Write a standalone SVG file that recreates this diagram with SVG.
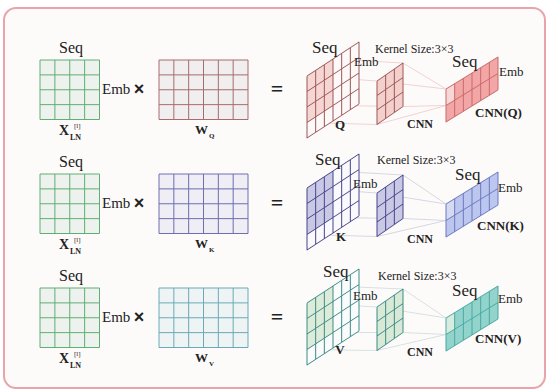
<svg xmlns="http://www.w3.org/2000/svg" width="550" height="391" viewBox="0 0 550 391">
<defs>
<style>
.t{font-family:"Liberation Serif","Times New Roman",serif;fill:#222}
.b{font-weight:bold}
.s16{font-size:16px}.s15{font-size:15px}.s17{font-size:17px}.s13{font-size:13px}.s12{font-size:12px}
.x{font-family:"Liberation Sans",Arial,sans-serif;font-weight:bold;font-size:18px;fill:#222}
.g{fill:none;vector-effect:non-scaling-stroke;stroke-width:1}
.cq{stroke:#ecc8c8;stroke-width:0.8;fill:none}
.ck{stroke:#cdcdda;stroke-width:0.8;fill:none}
.cv{stroke:#cbdada;stroke-width:0.8;fill:none}
</style>
<path id="grid44" d="M0,0H59.5M0,14.875H59.5M0,29.75H59.5M0,44.625H59.5M0,59.5H59.5M0,0V59.5M14.875,0V59.5M29.75,0V59.5M44.625,0V59.5M59.5,0V59.5"/>
<path id="grid64" d="M0,0H89M0,14.875H89M0,29.75H89M0,44.625H89M0,59.5H89M0,0V59.5M14.833,0V59.5M29.667,0V59.5M44.5,0V59.5M59.333,0V59.5M74.167,0V59.5M89,0V59.5"/>
<path id="pm" d="M0,0H52M0,15.5H52M0,31H52M0,46.5H52M0,62H52M0,0V62M8.667,0V62M17.333,0V62M26,0V62M34.667,0V62M43.333,0V62M52,0V62"/>
<path id="pk" d="M0,0H26M0,14.5H26M0,29H26M0,43.5H26M0,0V43.5M8.667,0V43.5M17.333,0V43.5M26,0V43.5"/>
<path id="po" d="M0,0H52M0,16.5H52M0,33H52M0,0V33M8.667,0V33M17.333,0V33M26,0V33M34.667,0V33M43.333,0V33M52,0V33"/>
</defs>
<rect x="4" y="8" width="541" height="380" rx="12" fill="#fdfbfa" stroke="#e8a4aa" stroke-width="2"/>

<g id="connectors">
<path class="cq" d="M307,76L377,81M333,59L403,63M307,122.5L377,124.5M333,105.5L403,106.5M377,81L446,89M403,63L446,89M377,124.5L446,105.5M403,106.5L446,105.5"/>
<path class="ck" d="M307,188L377,193M333,171L403,175M307,234.5L377,236.5M333,217.5L403,218.5M377,193L446,204M403,175L446,204M377,236.5L446,220.5M403,218.5L446,220.5"/>
<path class="cv" d="M307,303L377,307M333,286L403,289M307,349.5L377,350.5M333,332.5L403,332.5M377,307L446,318M403,289L446,318M377,350.5L446,334.5M403,332.5L446,334.5"/>
</g>

<!-- Row Q -->
<g id="xq">
<rect x="40" y="60" width="59.5" height="59.5" fill="#eef2ee"/>
<use href="#grid44" x="40" y="60" fill="none" stroke="#5fae73" stroke-width="1"/>
<text class="t s16" x="71" y="53" text-anchor="middle">Seq</text>
<text class="t s15" x="102" y="94">Emb</text>
<text class="t b" font-size="14" x="59" y="135">X</text>
<text class="t" font-size="7" x="74" y="128">[l]</text>
<text class="t b" font-size="8" x="70" y="139.5">LN</text>
</g>
<text class="x" x="139" y="95" text-anchor="middle">×</text>
<g id="wq">
<rect x="159" y="60" width="89" height="59.5" fill="#f0eeee"/>
<use href="#grid64" x="159" y="60" fill="none" stroke="#a86c6c" stroke-width="1"/>
<text class="t b s13" x="195" y="134">W</text>
<text class="t b" font-size="7" x="209" y="138">Q</text>
</g>
<text class="t b" font-size="22" x="277" y="96" text-anchor="middle">=</text>
<g id="q">
<g transform="matrix(1,-0.654,0,1,307,76)">
<rect width="52" height="62" fill="#fdf9f9"/>
<rect width="26" height="46.5" fill="#f6d6d2"/>
<use href="#pm" class="g" stroke="#9b5757"/>
</g>
<text class="t s17" x="312" y="53">Seq</text>
<text class="t b s13" x="340" y="129" text-anchor="middle">Q</text>
</g>
<g id="cnnq">
<g transform="matrix(1,-0.692,0,1,377,81)">
<rect width="26" height="43.5" fill="#f4d0cc"/>
<use href="#pk" class="g" stroke="#9b5757"/>
</g>
<text class="t s13" x="354" y="66">Emb</text>
<text class="t s12" x="375" y="53">Kernel Size:3×3</text>
<text class="t b s12" x="407" y="128">CNN</text>
</g>
<g id="outq">
<g transform="matrix(1,-0.615,0,1,446,89)">
<rect width="52" height="33" fill="#f2a6a6"/>
<rect width="8.667" height="16.5" fill="#f8d8d6"/>
<use href="#po" class="g" stroke="#c86a6a"/>
</g>
<text class="t s17" x="452" y="67">Seq</text>
<text class="t s13" x="499" y="76">Emb</text>
<text class="t b s13" x="475" y="117">CNN(Q)</text>
</g>

<!-- Row K -->
<g id="xk">
<rect x="40" y="174" width="59.5" height="59.5" fill="#eef2ee"/>
<use href="#grid44" x="40" y="174" fill="none" stroke="#5fae73" stroke-width="1"/>
<text class="t s16" x="71" y="167" text-anchor="middle">Seq</text>
<text class="t s15" x="102" y="208">Emb</text>
<text class="t b" font-size="14" x="59" y="249">X</text>
<text class="t" font-size="7" x="74" y="242">[l]</text>
<text class="t b" font-size="8" x="70" y="253.5">LN</text>
</g>
<text class="x" x="139" y="209" text-anchor="middle">×</text>
<g id="wk">
<rect x="159" y="174" width="89" height="59.5" fill="#eeeef4"/>
<use href="#grid64" x="159" y="174" fill="none" stroke="#6e6eb0" stroke-width="1"/>
<text class="t b s13" x="195" y="248">W</text>
<text class="t b" font-size="7" x="209" y="252">K</text>
</g>
<text class="t b" font-size="22" x="277" y="210" text-anchor="middle">=</text>
<g id="k">
<g transform="matrix(1,-0.654,0,1,307,188)">
<rect width="52" height="62" fill="#fafafd"/>
<rect width="26" height="46.5" fill="#c9c9e6"/>
<use href="#pm" class="g" stroke="#45458a"/>
</g>
<text class="t s17" x="315" y="165">Seq</text>
<text class="t b s13" x="341" y="241" text-anchor="middle">K</text>
</g>
<g id="cnnk">
<g transform="matrix(1,-0.692,0,1,377,193)">
<rect width="26" height="43.5" fill="#c9c9e6"/>
<use href="#pk" class="g" stroke="#45458a"/>
</g>
<text class="t s13" x="353" y="188">Emb</text>
<text class="t s12" x="377" y="164">Kernel Size:3×3</text>
<text class="t b s12" x="407" y="243">CNN</text>
</g>
<g id="outk">
<g transform="matrix(1,-0.615,0,1,446,204)">
<rect width="52" height="33" fill="#bcc6ee"/>
<rect width="8.667" height="16.5" fill="#d6daf0"/>
<use href="#po" class="g" stroke="#6a7ac0"/>
</g>
<text class="t s17" x="455" y="180">Seq</text>
<text class="t s13" x="498" y="192">Emb</text>
<text class="t b s13" x="477" y="230">CNN(K)</text>
</g>

<!-- Row V -->
<g id="xv">
<rect x="40" y="288" width="59.5" height="59.5" fill="#eef2ee"/>
<use href="#grid44" x="40" y="288" fill="none" stroke="#5fae73" stroke-width="1"/>
<text class="t s16" x="71" y="281" text-anchor="middle">Seq</text>
<text class="t s15" x="102" y="322">Emb</text>
<text class="t b" font-size="14" x="59" y="363">X</text>
<text class="t" font-size="7" x="74" y="356">[l]</text>
<text class="t b" font-size="8" x="70" y="367.5">LN</text>
</g>
<text class="x" x="139" y="323" text-anchor="middle">×</text>
<g id="wv">
<rect x="159" y="288" width="89" height="59.5" fill="#eef3f4"/>
<use href="#grid64" x="159" y="288" fill="none" stroke="#6aaab8" stroke-width="1"/>
<text class="t b s13" x="195" y="362">W</text>
<text class="t b" font-size="7" x="209" y="366">V</text>
</g>
<text class="t b" font-size="22" x="277" y="324" text-anchor="middle">=</text>
<g id="v">
<g transform="matrix(1,-0.654,0,1,307,303)">
<rect width="52" height="62" fill="#fafcfc"/>
<rect width="26" height="46.5" fill="#dcecd8"/>
<use href="#pm" class="g" stroke="#3d8a88"/>
</g>
<text class="t s17" x="323" y="277">Seq</text>
<text class="t b s13" x="340" y="354" text-anchor="middle">V</text>
</g>
<g id="cnnv">
<g transform="matrix(1,-0.692,0,1,377,307)">
<rect width="26" height="43.5" fill="#d8ead6"/>
<use href="#pk" class="g" stroke="#3d8a88"/>
</g>
<text class="t s13" x="353" y="300">Emb</text>
<text class="t s12" x="378" y="280">Kernel Size:3×3</text>
<text class="t b s12" x="407" y="356">CNN</text>
</g>
<g id="outv">
<g transform="matrix(1,-0.615,0,1,446,318)">
<rect width="52" height="33" fill="#92d4cc"/>
<rect width="8.667" height="16.5" fill="#d6ecde"/>
<use href="#po" class="g" stroke="#4aa8a4"/>
</g>
<text class="t s17" x="452" y="296">Seq</text>
<text class="t s13" x="498" y="303">Emb</text>
<text class="t b s13" x="475" y="343">CNN(V)</text>
</g>
</svg>
